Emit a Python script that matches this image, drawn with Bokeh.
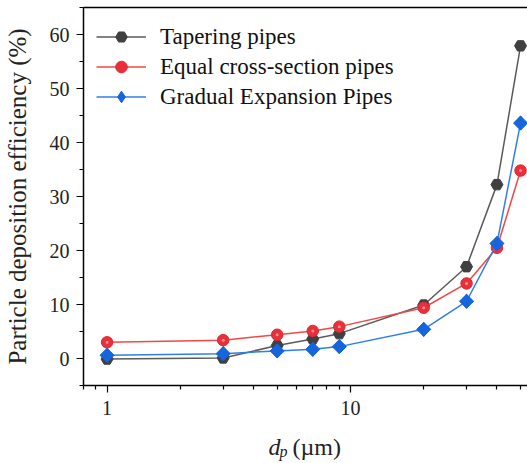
from bokeh.plotting import figure
from bokeh.embed import file_html
from bokeh.resources import INLINE
from bokeh.layouts import column
from bokeh.models import (Range1d, FixedTicker, SingleIntervalTicker, NumeralTickFormatter,
                          LinearAxis, Label, Legend, LegendItem)
import numpy as np

# ---- data ----
dp = [1, 3, 5, 7, 9, 20, 30, 40, 50]
tapering = [-0.1, 0.1, 2.4, 3.6, 4.6, 9.9, 17.0, 32.2, 57.9]
equal = [3.0, 3.4, 4.4, 5.1, 5.9, 9.4, 13.9, 20.5, 34.8]
gradual = [0.6, 0.9, 1.4, 1.7, 2.2, 5.4, 10.6, 21.3, 43.6]
series_names = ["Tapering pipes", "Equal cross-section pipes", "Gradual Expansion Pipes"]
x_major = [1, 10]
x_minor = [0.8, 0.9, 2, 3, 4, 5, 6, 7, 8, 9, 20, 30, 40, 50]

FONT = "Liberation Serif"
TXT = "#222222"

p = figure(width=527, height=417, x_axis_type="log",
           x_range=Range1d(0.8, 53.4), y_range=Range1d(-5, 65),
           output_backend="svg", toolbar_location=None,
           min_border_left=83, min_border_right=0, min_border_top=7, min_border_bottom=0)
p.outline_line_color = None
p.xgrid.visible = False
p.ygrid.visible = False
p.background_fill_color = "white"

# top border line (the reference shows no right border)
top = LinearAxis(ticker=FixedTicker(ticks=[]), major_label_text_font_size="0px",
                 major_tick_out=0, major_tick_in=0, minor_tick_out=0, minor_tick_in=0,
                 major_label_standoff=0, axis_line_width=1.5, axis_line_color="black")
p.add_layout(top, "above")

# tapering
l1 = p.line(dp, tapering, line_color="#5a5a5a", line_width=1.5)
m1 = p.scatter(dp, tapering, marker="hex", size=12, fill_color="#404040", line_color="#404040")
# equal
l2 = p.line(dp, equal, line_color="#f04848", line_width=1.5)
m2 = p.scatter(dp, equal, marker="circle", size=11.5, fill_color="#e8303a", line_color="#e02832")
p.scatter(dp, equal, marker="circle", size=3, fill_color="#ff9090", line_color=None)
# gradual
l3 = p.line(dp, gradual, line_color="#2f7fe6", line_width=1.5)
m3 = p.scatter(dp, gradual, marker="diamond", size=14, fill_color="#1565dc", line_color="#1565dc")
p.scatter(dp, gradual, marker="square", angle=np.pi / 4, size=10, fill_color="#1565dc",
          line_color="#1565dc")

# axes
xa = p.below[0]
xa.ticker = FixedTicker(ticks=x_major, minor_ticks=x_minor)
xa.formatter = NumeralTickFormatter(format="0")
ya = p.left[0]
ya.ticker = SingleIntervalTicker(interval=10, num_minor_ticks=2)
for ax in (xa, ya):
    ax.axis_line_width = 1.5
    ax.axis_line_color = "black"
    ax.major_tick_line_color = "black"
    ax.minor_tick_line_color = "black"
    ax.major_tick_line_width = 1.2
    ax.minor_tick_line_width = 1.2
    ax.major_tick_in = 0
    ax.minor_tick_in = 0
    ax.major_tick_out = 7
    ax.minor_tick_out = 4
    ax.major_label_text_font = FONT
    ax.major_label_text_font_size = "20px"
    ax.major_label_text_color = TXT
xa.major_label_standoff = 8
ya.major_label_standoff = 7
ya.axis_label = "Particle deposition efficiency (%)"
ya.axis_label_text_font = FONT
ya.axis_label_text_font_size = "25px"
ya.axis_label_text_font_style = "normal"
ya.axis_label_text_color = TXT
ya.axis_label_standoff = 16

lg = Legend(items=[LegendItem(label=series_names[0], renderers=[l1, m1]),
                   LegendItem(label=series_names[1], renderers=[l2, m2]),
                   LegendItem(label=series_names[2], renderers=[l3, m3])])
lg.location = (13, 274)
lg.margin = 0
lg.padding = 9
lg.spacing = 1
lg.glyph_width = 50
lg.glyph_height = 29
lg.label_standoff = 14
lg.label_text_font = FONT
lg.label_text_font_size = "23px"
lg.label_text_color = "#111111"
lg.border_line_color = None
lg.background_fill_alpha = 0
p.add_layout(lg, "center")

# x-axis title strip: italic d with italic subscript p, then (µm)
# (its frame is aligned with the main frame, so x is measured from the main frame's left)
q = figure(width=527, height=46, x_range=Range1d(0, 444), y_range=Range1d(0, 46),
           x_axis_type=None, y_axis_type=None, output_backend="svg", toolbar_location=None,
           min_border=0)
q.outline_line_color = None
q.xgrid.visible = False
q.ygrid.visible = False
q.add_layout(Label(x=185, y=17, x_units="screen", y_units="screen", text="d",
                   text_font=FONT, text_font_size="24px", text_font_style="italic",
                   text_color=TXT, text_baseline="alphabetic", text_align="left"))
q.add_layout(Label(x=196, y=12, x_units="screen", y_units="screen", text="p",
                   text_font=FONT, text_font_size="16px", text_font_style="italic",
                   text_color=TXT, text_baseline="alphabetic", text_align="left"))
q.add_layout(Label(x=209, y=17, x_units="screen", y_units="screen", text="(µm)",
                   text_font=FONT, text_font_size="24px",
                   text_color=TXT, text_baseline="alphabetic", text_align="left"))

layout = column(p, q, spacing=0)
open("out.html", "w").write(file_html(layout, INLINE))
